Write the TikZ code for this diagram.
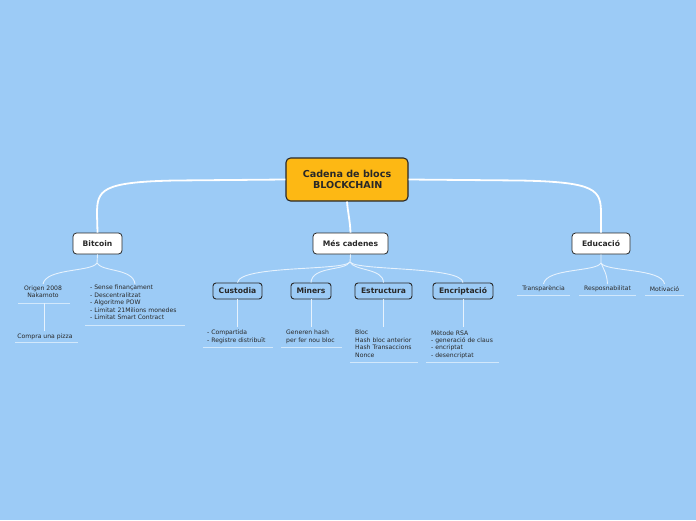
\documentclass[tikz,border=0pt]{standalone}
\usepackage{fontspec}
\setmainfont{DejaVu Sans}
\definecolor{bgc}{RGB}{156,203,246}
\definecolor{orng}{RGB}{253,184,20}
\definecolor{dark}{RGB}{40,40,40}
\begin{document}
\begin{tikzpicture}[x=1pt,y=-1pt,
  rootbox/.style={draw=dark,line width=1.1pt,fill=orng,rounded corners=4.5pt,minimum width=122pt,minimum height=43pt,font=\bfseries\fontsize{9.6}{11}\selectfont,align=center,text=dark,inner sep=0pt},
  mainbox/.style={draw=dark,line width=0.8pt,fill=white,rounded corners=3.5pt,minimum height=21pt,font=\bfseries\fontsize{7.6}{8.5}\selectfont,text=dark,inner sep=0pt},
  subbox/.style={draw=dark,line width=0.9pt,fill=bgc,rounded corners=3pt,minimum height=16pt,font=\bfseries\fontsize{7.6}{8.5}\selectfont,text=dark,inner sep=0pt},
  leaf/.style={font=\fontsize{6.1}{7.4}\selectfont,align=left,text=dark,inner sep=0pt},
  leafc/.style={font=\fontsize{6.1}{7.4}\selectfont,align=center,text=dark,inner sep=0pt},
  bigline/.style={draw=white,line width=1.8pt},
  thinline/.style={draw=white!75!bgc,line width=0.9pt},
  uline/.style={draw=white!55!bgc,line width=1pt}]
\fill[bgc] (0,0) rectangle (696,520);
\useasboundingbox (0,0) rectangle (696,520);

% main nodes
\node[rootbox] (root) at (347,179.5) {Cadena de blocs\\\,BLOCKCHAIN};
\node[mainbox,minimum width=49pt] (bitcoin) at (97.5,243.5) {Bitcoin};
\node[mainbox,minimum width=75pt] (mes) at (350.5,243.5) {Més cadenes};
\node[mainbox,minimum width=58pt] (edu) at (601,243.5) {Educació};

% root connectors
\draw[bigline] (root.west) -- (175,180.5) .. controls (101,182) and (97,190) .. (97,214) -- (bitcoin.north);
\draw[bigline] (root.south) .. controls (348,214) and (350,220) .. (mes.north);
\draw[bigline] (root.east) -- (520,180.5) .. controls (597,182) and (601,190) .. (601,214) -- (edu.north);

% Bitcoin branch
\node[leafc] (origen) at (43,292) {Origen 2008\\Nakamoto};
\node[leaf,anchor=north west] (llista) at (90,285) {- Sense finançament\\- Descentralitzat\\- Algoritme POW\\- Limitat 21Milions monedes\\- Limitat Smart Contract};
\node[leafc] (pizza) at (45,337) {Compra una pizza};
\coordinate (bsplit) at (97,263);
\draw[thinline] (bitcoin.south) -- (bsplit) .. controls (92,272) and (46,268) .. (43,284);
\draw[thinline] (bsplit) .. controls (102,272) and (133,268) .. (135,284);
\draw[uline] (18,303) -- (70,303);
\draw[uline] (85,325) -- (185,325);
\coordinate (oend) at (44,303);
\draw[thinline] (oend) -- (44,331);
\draw[uline] (15,342) -- (78,342);

% Més cadenes branch
\node[subbox,minimum width=49pt] (cust) at (237.5,291) {Custodia};
\node[subbox,minimum width=40pt] (miners) at (311,291) {Miners};
\node[subbox,minimum width=57pt] (estr) at (383.5,291) {Estructura};
\node[subbox,minimum width=60pt] (encr) at (463,291) {Encriptació};
\coordinate (msplit) at (350,262);
\draw[thinline] (mes.south) -- (msplit) .. controls (344,271) and (240,265) .. (cust.north);
\draw[thinline] (msplit) .. controls (345,271) and (312,266) .. (miners.north);
\draw[thinline] (msplit) .. controls (354,271) and (383,268) .. (estr.north);
\draw[thinline] (msplit) .. controls (356,271) and (462,266) .. (encr.north);

\node[leaf,anchor=north west] (custl) at (207,330) {- Compartida\\- Registre distribuït};
\node[leaf,anchor=north west] (minl) at (286,330) {Generen hash\\per fer nou bloc};
\node[leaf,anchor=north west] (estl) at (355,330) {Bloc\\Hash bloc anterior\\Hash Transaccions\\Nonce};
\node[leaf,anchor=north west] (encl) at (431,330) {Mètode RSA\\- generació de claus\\- encriptat\\- desencriptat};
\draw[thinline] (cust.south) -- (237.5,327);
\draw[thinline] (miners.south) -- (311,327);
\draw[thinline] (estr.south) -- (383.5,327);
\draw[thinline] (encr.south) -- (463,327);
\draw[uline] (203,347) -- (273,347);
\draw[uline] (281,347) -- (342,347);
\draw[uline] (350,362) -- (418,362);
\draw[uline] (426,362) -- (499,362);

% Educació branch
\node[leafc] (transp) at (543.5,289) {Transparència};
\node[leafc] (resp) at (607.5,289) {Resposnabilitat};
\node[leafc] (motiv) at (664.5,289) {Motivació};
\coordinate (esplit) at (601,263);
\draw[thinline] (edu.south) -- (esplit) .. controls (596,272) and (546,268) .. (543.5,284);
\draw[thinline] (esplit) .. controls (604,270) and (607,274) .. (607.5,284);
\draw[thinline] (esplit) .. controls (606,272) and (662,268) .. (664.5,284);
\draw[uline] (517,295) -- (570,295);
\draw[uline] (579,295) -- (636,295);
\draw[uline] (645,295) -- (684,295);
\end{tikzpicture}
\end{document}
